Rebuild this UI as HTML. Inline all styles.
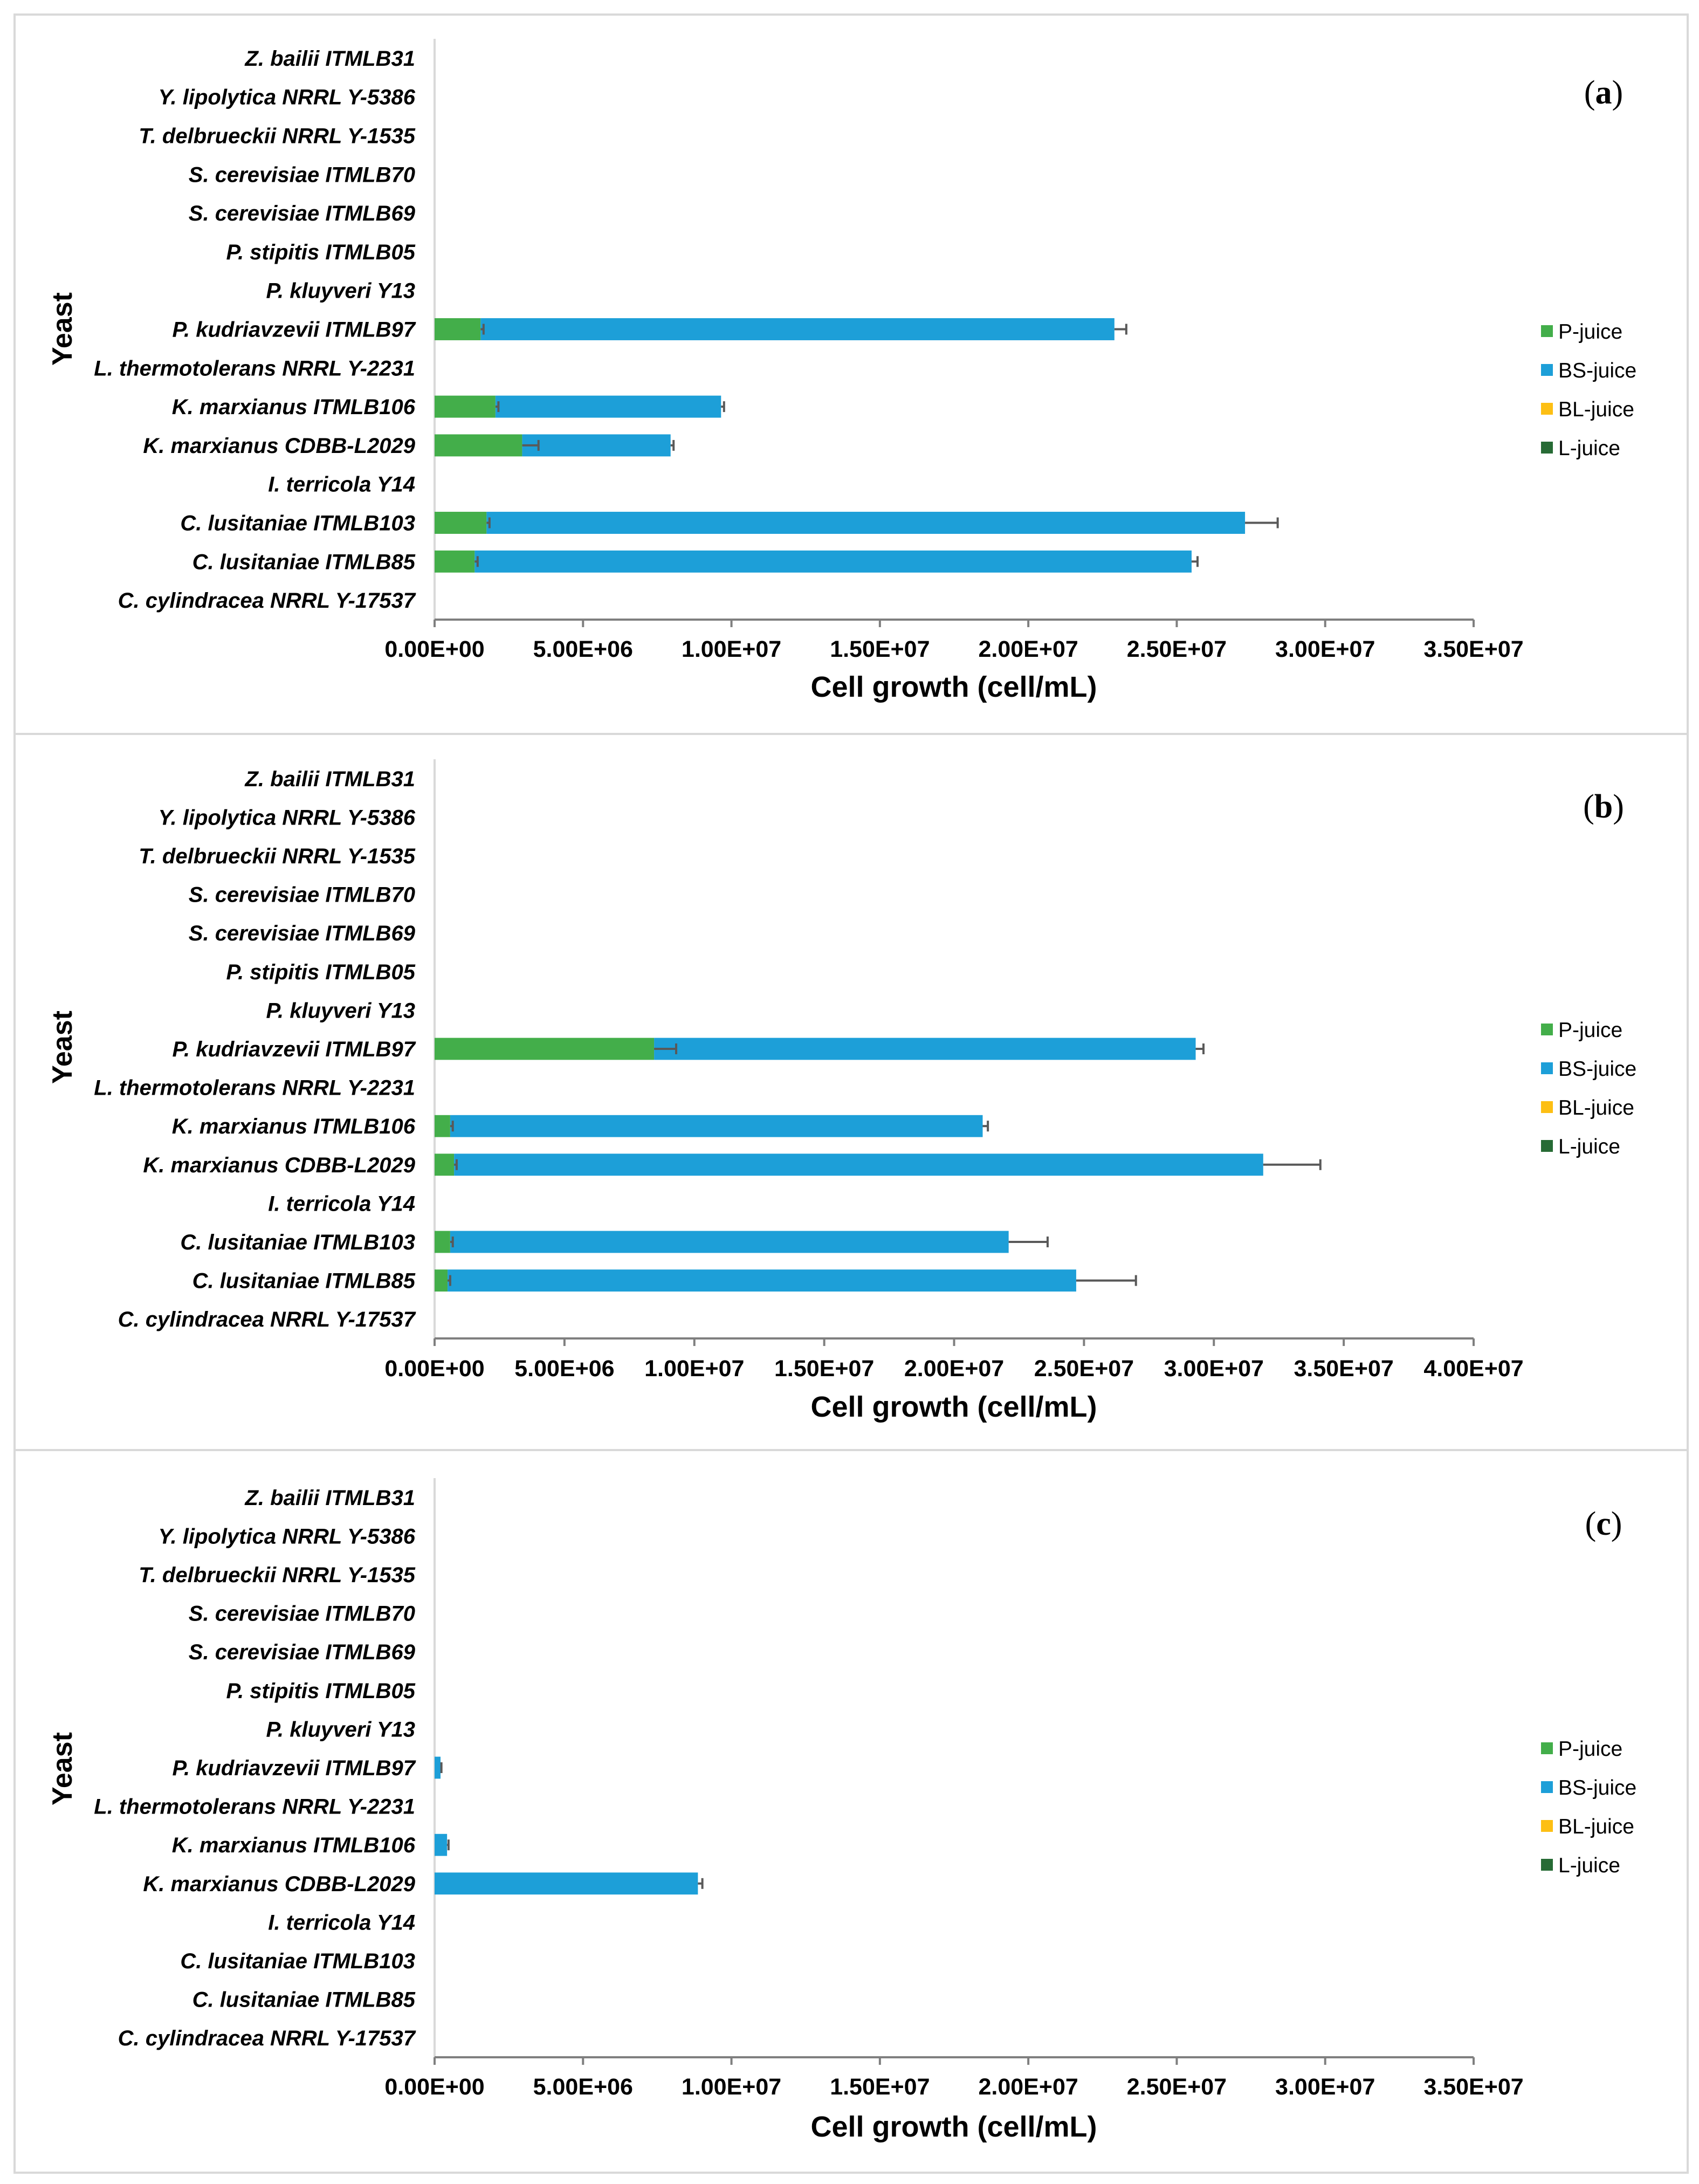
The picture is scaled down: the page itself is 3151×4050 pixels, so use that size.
<!DOCTYPE html>
<html><head><meta charset="utf-8">
<style>
html,body{margin:0;padding:0;background:#fff;}
svg{display:block;}
text{font-family:"Liberation Sans",sans-serif;}
</style></head>
<body>
<svg id="chart" width="3151" height="4050" viewBox="0 0 3151 4050" xmlns="http://www.w3.org/2000/svg">
<rect x="27" y="27" width="3103" height="4002" fill="#fff" stroke="#d9d9d9" stroke-width="4"/>
<line x1="27" y1="1361" x2="3130" y2="1361" stroke="#d9d9d9" stroke-width="4"/>
<line x1="27" y1="2689" x2="3130" y2="2689" stroke="#d9d9d9" stroke-width="4"/>
</svg>
<script>
const categories = ["Z. bailii ITMLB31","Y. lipolytica NRRL Y-5386","T. delbrueckii NRRL Y-1535","S. cerevisiae ITMLB70","S. cerevisiae ITMLB69","P. stipitis ITMLB05","P. kluyveri Y13","P. kudriavzevii ITMLB97","L. thermotolerans NRRL Y-2231","K. marxianus ITMLB106","K. marxianus CDBB-L2029","I. terricola Y14","C. lusitaniae ITMLB103","C. lusitaniae ITMLB85","C. cylindracea NRRL Y-17537"];
const seriesNames = ["P-juice","BS-juice","BL-juice","L-juice"];
const seriesColors = ["#43ae4a","#1d9fd8","#fdbf14","#276b35"];
// panel a (cells/mL)
const aP   = [0,0,0,0,0,0,0,1.55e6,0,2.05e6,2.95e6,0,1.75e6,1.35e6,0];
const aPerr= [0,0,0,0,0,0,0,0.1e6,0,0.1e6,0.55e6,0,0.1e6,0.1e6,0];
const aBS  = [0,0,0,0,0,0,0,21.35e6,0,7.6e6,5.0e6,0,25.55e6,24.15e6,0];
const aBSerr=[0,0,0,0,0,0,0,0.4e6,0,0.1e6,0.1e6,0,1.1e6,0.2e6,0];
// panel b
const bP   = [0,0,0,0,0,0,0,8.45e6,0,0.6e6,0.75e6,0,0.6e6,0.5e6,0];
const bPerr= [0,0,0,0,0,0,0,0.85e6,0,0.1e6,0.1e6,0,0.1e6,0.1e6,0];
const bBS  = [0,0,0,0,0,0,0,20.85e6,0,20.5e6,31.15e6,0,21.5e6,24.2e6,0];
const bBSerr=[0,0,0,0,0,0,0,0.3e6,0,0.2e6,2.2e6,0,1.5e6,2.3e6,0];
// panel c
const cP   = [0,0,0,0,0,0,0,0,0,0,0,0,0,0,0];
const cPerr= [0,0,0,0,0,0,0,0,0,0,0,0,0,0,0];
const cBS  = [0,0,0,0,0,0,0,0.2e6,0,0.42e6,8.87e6,0,0,0,0];
const cBSerr=[0,0,0,0,0,0,0,0.03e6,0,0.05e6,0.15e6,0,0,0,0];
const ticksA = ["0.00E+00","5.00E+06","1.00E+07","1.50E+07","2.00E+07","2.50E+07","3.00E+07","3.50E+07"];
const ticksB = ["0.00E+00","5.00E+06","1.00E+07","1.50E+07","2.00E+07","2.50E+07","3.00E+07","3.50E+07","4.00E+07"];

const NS="http://www.w3.org/2000/svg";
const svg=document.getElementById('chart');
function mk(tag,attrs,parent){const e=document.createElementNS(NS,tag);for(const k in attrs)e.setAttribute(k,attrs[k]);(parent||svg).appendChild(e);return e;}

const panels=[
 {id:'a',P:aP,Perr:aPerr,BS:aBS,BSerr:aBSerr,ticks:ticksA,max:3.5e7,top:72,bottom:1149,tickY:1218,titleY:1292,yeastY:610,legY:614,labY:192},
 {id:'b',P:bP,Perr:bPerr,BS:bBS,BSerr:bBSerr,ticks:ticksB,max:4.0e7,top:1408,bottom:2482,tickY:2552,titleY:2627,yeastY:1942,legY:1909,labY:1516},
 {id:'c',P:cP,Perr:cPerr,BS:cBS,BSerr:cBSerr,ticks:ticksA,max:3.5e7,top:2741,bottom:3815,tickY:3884,titleY:3962,yeastY:3280,legY:3242,labY:2846}
];
const X0=806, X1=2733;
panels.forEach(p=>{
  const g=mk('g',{});
  
  
  const xs=v=>X0+(v/p.max)*(X1-X0);
  const band=(p.bottom-p.top)/categories.length;
  const yc=i=>p.top+band*(i+0.5);
  const bh=band*0.57;
  const ya=mk('line',{x1:X0,y1:p.top,x2:X0,y2:p.bottom,stroke:'#d9d9d9','stroke-width':4},g);
  
  
  categories.forEach((c,i)=>{
    const t=mk('text',{x:770,y:yc(i)+14,'text-anchor':'end','font-size':40,'font-weight':'bold','font-style':'italic',fill:'#000'},g);
    t.textContent=c;
    
    
  });
  categories.forEach((c,i)=>{
    const pv=p.P[i], bv=p.BS[i];
    if(pv>0){
      const r=mk('rect',{x:xs(0),y:yc(i)-bh/2,width:xs(pv)-xs(0),height:bh,fill:seriesColors[0]},g);
      
      
    }
    if(bv>0){
      const r=mk('rect',{x:xs(pv),y:yc(i)-bh/2,width:xs(pv+bv)-xs(pv),height:bh,fill:seriesColors[1]},g);
      
      
    }
    const errs=[[pv,p.Perr[i]],[pv+bv,p.BSerr[i]]];
    errs.forEach(([end,e])=>{
      if(e>0&&end>0){
        const eg=mk('g',{stroke:'#595959','stroke-width':4},g);
        
        
        mk('line',{x1:xs(end),y1:yc(i),x2:xs(end+e),y2:yc(i)},eg);
        mk('line',{x1:xs(end+e),y1:yc(i)-10,x2:xs(end+e),y2:yc(i)+10},eg);
      }
    });
  });
  const xa=mk('line',{x1:X0,y1:p.bottom,x2:X1,y2:p.bottom,stroke:'#7f7f7f','stroke-width':4},g);
  
  
  const n=p.ticks.length-1;
  p.ticks.forEach((lab,k)=>{
    const x=X0+(X1-X0)*k/n;
    const tm=mk('line',{x1:x,y1:p.bottom,x2:x,y2:p.bottom+14,stroke:'#7f7f7f','stroke-width':4},g);
    
    
    const t=mk('text',{x:x,y:p.tickY,'text-anchor':'middle','font-size':43,'font-weight':'bold',fill:'#000'},g);
    t.textContent=lab;
    
    
  });
  const tt=mk('text',{x:1769,y:p.titleY,'text-anchor':'middle','font-size':54,'font-weight':'bold',fill:'#000'},g);
  tt.textContent='Cell growth (cell/mL)';
  
  
  const yt=mk('text',{x:0,y:0,'text-anchor':'middle','font-size':52,'font-weight':'bold',fill:'#000',transform:`translate(133,${p.yeastY}) rotate(-90)`},g);
  yt.textContent='Yeast';
  
  
  seriesNames.forEach((s,k)=>{
    const y=p.legY+72*k;
    const lg=mk('g',{},g);
    
    
    mk('rect',{x:2858,y:y-11,width:22,height:22,fill:seriesColors[k]},lg);
    const t=mk('text',{x:2890,y:y+14,'font-size':39,fill:'#000'},lg);
    t.textContent=s;
  });
  const pl=mk('text',{x:2974,y:p.labY,'text-anchor':'middle','font-size':62,fill:'#000'},g);
  pl.setAttribute('style','font-family:"Liberation Serif",serif');
  pl.innerHTML='(<tspan font-weight="bold">'+p.id+'</tspan>)';
  
  
});
</script>
</body></html>
